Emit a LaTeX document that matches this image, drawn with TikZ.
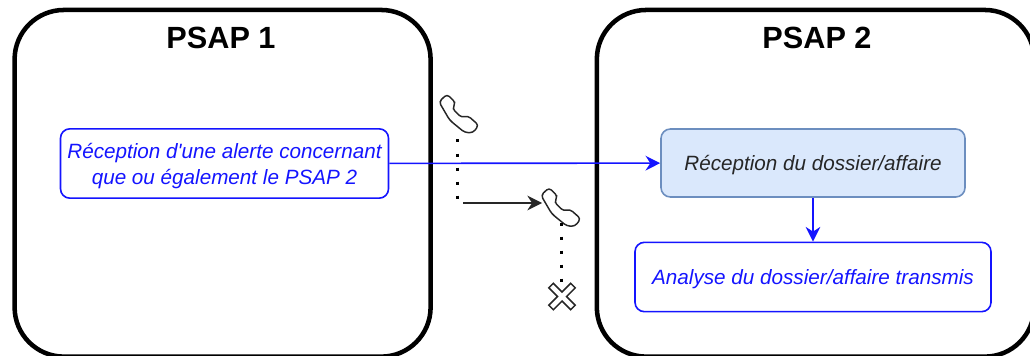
\documentclass[tikz,border=0pt]{standalone}
\usepackage{fontspec}
\setmainfont{Liberation Sans}
\usetikzlibrary{positioning,arrows.meta}

\definecolor{psapblue}{RGB}{20,20,255}
\definecolor{fillblue}{RGB}{218,232,252}
\definecolor{edgeblue}{RGB}{108,142,191}

\tikzset{
    psapbox/.style={draw=black, line width=3.4pt, rounded corners=37pt, minimum height=260pt},
    titlelabel/.style={font=\fontsize{23}{27}\selectfont\bfseries},
    bluebox/.style={draw=psapblue, line width=1.2pt, rounded corners=7pt, text=psapblue, text depth=0pt, align=center, font=\fontsize{15.5}{19.5}\selectfont\itshape},
    greybox/.style={draw=edgeblue, fill=fillblue, line width=1.2pt, rounded corners=7pt, text=black!85, text depth=0pt, align=center, font=\fontsize{15.5}{19.5}\selectfont\itshape},
    bluearrow/.style={draw=psapblue, line width=1.2pt, -{Stealth[length=11pt,width=11pt]}},
    callarrow/.style={draw=black!85, line width=1.2pt, -{Stealth[length=11pt,width=11pt]}},
    dotline/.style={line width=2.25pt, dash pattern=on 2.25pt off 8.25pt},
    phone/.pic={
        \draw [line width=1.1pt, black!85, fill=white, rounded corners=2.5pt]
            (-20,-11.7) -- (-12,-19.3) -- (-3.3,-10.7) -- (-6.7,-5) -- (2.3,4) -- (9,2.3)
            -- (19.7,11.7) -- (14,19.3) -- (5.7,19) -- (-9.3,6.7) -- cycle;
    },
    xcross/.pic={
        \draw [line width=1.1pt, black!85, fill=white, rotate=45]
            (-3.2,-15.5) -- (3.2,-15.5) -- (3.2,-3.2) -- (15.5,-3.2) -- (15.5,3.2) -- (3.2,3.2)
            -- (3.2,15.5) -- (-3.2,15.5) -- (-3.2,3.2) -- (-15.5,3.2) -- (-15.5,-3.2) -- (-3.2,-3.2) -- cycle;
    }
}

\begin{document}
\begin{tikzpicture}[x=0.75pt, y=-0.75pt]

        \useasboundingbox (0,0) rectangle (1030,356);

        % PSAP 1

        \node [psapbox, minimum width=312pt] (psap1) at (222.6,183.3) {};
        \node [titlelabel] (psap1title) at (221,38) {PSAP 1};
        \node [bluebox, minimum width=246pt, minimum height=52pt] (alerte) at (224.5,163.5) {R\'eception d\textquotesingle une alerte concernant\\que ou \'egalement le PSAP 2};

        % PSAP 2

        \node [psapbox, minimum width=328pt] (psap2) at (815.5,183.3) {};
        \node [titlelabel] (psap2title) at (817,38) {PSAP 2};
        \node [greybox, minimum width=228pt, minimum height=51pt] (reception) at (813,163) {R\'eception du dossier/affaire};
        \node [bluebox, minimum width=267pt, minimum height=52pt] (analyse) at (813,277) {Analyse du dossier/affaire transmis};

        % appel

        \coordinate (dotsA) at (457,139.5);
        \coordinate (dotsB) at (457,198.5);
        \coordinate (callstart) at (463,203);
        \coordinate (callend) at (542,203);
        \coordinate (dotsC) at (561,222.5);
        \coordinate (dotsD) at (561,281.5);

        \pic (phoneA) at (459,113.5) {phone};
        \pic (phoneB) at (561,207) {phone};
        \pic (fin) at (562,296.5) {xcross};

        \draw [dotline] (dotsA) -- (dotsB);
        \draw [dotline] (dotsC) -- (dotsD);
        \draw [callarrow] (callstart) -- (callend);

        \draw [bluearrow] (alerte) -- (reception);
        \draw [bluearrow] (reception) -- (analyse);

    \end{tikzpicture}
\end{document}
